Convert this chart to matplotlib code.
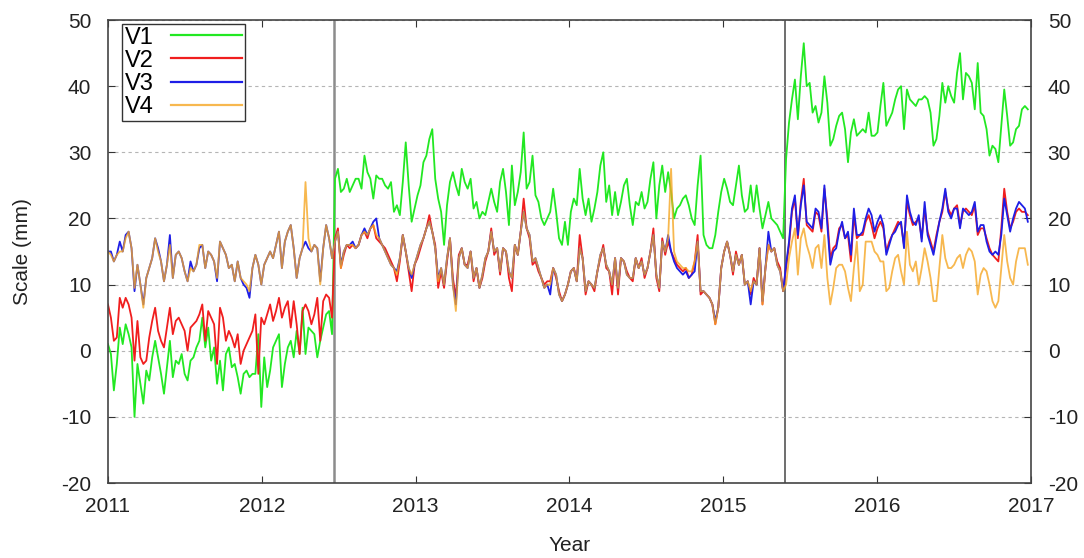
import numpy as np
import pandas as pd
import matplotlib
matplotlib.use("Agg")
import matplotlib.pyplot as plt

plt.rcParams['font.family'] = ['Liberation Sans', 'DejaVu Sans']
plt.rcParams['axes.unicode_minus'] = False

# weekly solutions, 2011-01-01 .. 2016-12-31
dates = pd.date_range("2011-01-01", periods=313, freq="7D")
years = 2011 + (dates - pd.Timestamp("2011-01-01")).days / 365.25

# equipment changes
breaks = [2012.47, 2015.40]

v1 = [
    1, -0.5, -6, -2, 3.5, 1, 4, 2.5, 0.5, -10,
    -2, -5, -8, -3, -4.5, -1, 1.5, -1, -3.5, -6.5,
    -2.5, 1.5, -4, -1.5, -2, -0.5, -3.5, -4.5, -1.5, -1,
    0.5, 1.5, 5, 0.5, 3.5, -1.5, 0.5, -5, -1.5, -6,
    -0.5, 0.5, -2.5, -2, -4, -6.5, -3.5, -3, -4, -3.5,
    -3.5, 2.5, -8.5, -1, -5.5, -3, 0.5, 1.5, 2.5, -5.5,
    -2, 0.5, 1.5, -1, 3, -0.5, 6.5, -0.5, 3.5, 3,
    2.5, -1, 1.5, 3.5, 5.5, 6, 2.5,
    26, 27.5, 24,
    24.5, 26, 24, 25, 26, 26, 24.5, 29.5, 27, 26,
    23, 26.5, 26, 26, 25, 24.5, 25.5, 21, 22, 20.5,
    25.5, 31.5, 25, 19.5, 21.5, 23.5, 25, 28.5, 29.5, 32,
    33.5, 26, 23, 21, 16, 22, 25.5, 27, 25, 23.5,
    27.5, 25.5, 24.5, 26, 21.5, 22.5, 20, 21, 20.5, 22.5,
    24.5, 22.5, 21, 25.5, 27.5, 24, 19, 28, 22, 24,
    27, 33, 24.5, 25.5, 29.5, 23.5, 22.5, 20, 19, 20,
    21, 24.5, 21, 17, 16, 19.5, 16, 21, 23, 22,
    27.5, 23, 20.5, 23, 19.5, 21.5, 24, 28, 30, 22.5,
    25, 20.5, 24, 20.5, 22.5, 25, 26, 22, 19, 22.5,
    22, 24, 21.5, 22.5, 26, 28.5, 20, 25, 28, 24,
    27, 24, 20, 21.5, 22, 23, 23.5, 22, 20, 19,
    25, 29.5, 17.5, 16, 15.5, 15.5, 17.5, 21, 24, 26,
    24.5, 22.5, 22, 25, 28, 23.5, 21, 21.5, 25, 21,
    25, 21.5, 18.5, 20.5, 22.5, 20, 19.5, 19, 18, 17,
    29, 34.5, 38, 41, 35, 41.5, 46.5, 40, 40.5, 36,
    37, 34.5, 36, 41.5, 37.5, 31, 32, 34, 35.5, 36,
    33.5, 28.5, 33, 35, 32.5, 33, 33.5, 33, 36, 32.5,
    32.5, 33, 37, 40.5, 34, 35, 36, 38, 39.5, 40,
    33.5, 39.5, 38, 37.5, 37, 38, 38, 38.5, 38, 36,
    31, 32, 35.5, 40.5, 37.5, 40, 38.5, 37.5, 42, 45,
    38, 42, 41.5, 40.5, 36.5, 43.5, 36, 35.5, 33.5, 29.5,
    31, 30.5, 28.5, 34, 39.5, 35.5, 31, 31.5, 33.5, 34,
    36.5, 37, 36.5,
]

v2 = [
    7, 5, 1.5, 2, 8, 6.5, 8, 7, 5, -1.5,
    4.5, -1, -2, -1.5, 2, 4.5, 6.5, 3, 1.5, 0.5,
    3.5, 6.5, 2.5, 4.5, 5, 4, 3, 0, 3.5, 4,
    4.5, 5.5, 7, 1.5, 6, 5, 4, -2, 6.5, 5,
    1.5, 3, 2, 0.5, 2.5, -2, 0, 1, 2, 3,
    5.5, -3.5, 5, 4, 5.5, 7, 4.5, 6, 8, 5,
    6.5, 7.5, 3.5, 7.5, 4, -0.5, 6, 7, 6, 4,
    5.5, 8, 1.5, 7.5, 8.5, 8, 5,
    17, 18.5, 12.5,
    14.5, 16, 15.5, 16, 15.5, 16, 17.5, 18, 17, 18.5,
    19, 17, 16.5, 16, 15.5, 14.5, 13.5, 12.5, 10.5, 13.5,
    17.5, 15, 12, 9, 13, 14, 15.5, 17, 18.5, 20.5,
    18, 16, 9.5, 12, 9.5, 13.5, 17, 11, 8, 14.5,
    15.5, 13, 13, 15, 10.5, 12.5, 9.5, 11, 13.5, 15,
    18.5, 14.5, 15.5, 11.5, 15.5, 15, 11, 9, 16, 14.5,
    18, 23, 18.5, 17, 13, 13.5, 12, 11, 10, 10.5,
    10.5, 12.5, 11, 9, 7.5, 8.5, 10, 12, 12.5, 10.5,
    17.5, 14, 8.5, 10.5, 10, 9, 12, 14, 16, 12.5,
    12, 8.5, 14, 8.5, 14, 13.5, 12, 11, 10.5, 14,
    12.5, 14, 11, 12.5, 15, 18.5, 11, 9, 17, 14.5,
    16.5, 15, 14, 13, 12.5, 12, 12.5, 11, 11.5, 13.5,
    17.5, 8.5, 9, 8.5, 8, 7, 4, 6.5, 12.5, 15,
    16.5, 14.5, 11.5, 15, 13, 14.5, 10, 10.5, 8.5, 11,
    10, 15.5, 7, 12.5, 16, 15, 15.5, 13.5, 12.5, 9,
    12.5, 16, 21, 23, 17, 22.5, 26, 19, 18.5, 18,
    21, 20.5, 18, 24.5, 20, 14, 15.5, 16, 18.5, 19,
    17, 17.5, 13.5, 20.5, 17, 17.5, 17.5, 19.5, 20.5, 19,
    17, 18.5, 19.5, 18.5, 15, 16.5, 17.5, 18.5, 19.5, 19,
    16, 22.5, 20.5, 19, 19.5, 20, 17, 21.5, 18, 16.5,
    15, 17.5, 19.5, 21, 24, 21.5, 20.5, 21.5, 22, 19,
    21, 21.5, 21, 20.5, 22, 17.5, 18.5, 18.5, 17, 15.5,
    14.5, 14, 13.5, 18.5, 24.5, 21, 18.5, 19.5, 21, 21.5,
    21, 21, 20.5,
]

v3 = [
    15, 15, 13.5, 14.5, 16.5, 15, 17.5, 18, 15.5, 9,
    13, 10, 7, 11, 12.5, 14, 17, 15.5, 13.5, 10.5,
    13, 17.5, 11, 14.5, 15, 14, 12, 10.5, 13.5, 12,
    13, 15.5, 16, 12.5, 15, 14.5, 13.5, 10.5, 16.5, 15.5,
    14.5, 12.5, 13, 10.5, 13.5, 11, 10, 9.5, 8, 12.5,
    14.5, 13, 10, 13, 14, 15, 14, 16, 18, 12.5,
    16.5, 18, 19, 15.5, 11, 14, 15.5, 16.5, 15.5, 15,
    16, 15.5, 10.5, 15.5, 19, 17, 14,
    16.5, 18, 13,
    15, 16, 16, 16.5, 15.5, 16, 17.5, 18.5, 17.5, 18.5,
    19.5, 20, 17, 16, 15, 14, 13, 12.5, 12, 14,
    17.5, 15, 12.5, 11, 13, 14.5, 16, 17, 18.5, 19.5,
    18, 15.5, 11, 12.5, 10, 14, 17, 10, 7, 14,
    15.5, 13, 12.5, 15, 11, 12.5, 9.5, 11.5, 14, 15,
    18, 15, 15.5, 12, 15.5, 15, 12, 11, 16, 14.5,
    18, 21, 18.5, 17.5, 13.5, 14, 12.5, 11, 9.5, 10,
    8.5, 12.5, 11.5, 8.5, 7.5, 8.5, 10, 12, 12.5, 10.5,
    15.5, 14, 9, 10.5, 10, 9.5, 12, 14.5, 15.5, 13,
    12, 10, 14, 9.5, 14, 13.5, 11.5, 11, 11, 14,
    12.5, 13.5, 11.5, 12.5, 15, 17.5, 11.5, 9.5, 16.5, 15,
    17.5, 15, 13.5, 12.5, 12, 11.5, 12, 11, 11.5, 12,
    16.5, 9, 9, 8.5, 8, 7, 4.5, 6.5, 12.5, 15,
    16.5, 14.5, 12, 14.5, 13, 14.5, 10, 10.5, 7, 10.5,
    10, 15.5, 7.5, 12.5, 18, 15, 15.5, 13, 12, 9,
    13, 16.5, 21.5, 23.5, 17.5, 22, 25, 19.5, 19, 18.5,
    21.5, 21, 18.5, 25, 19, 13, 15, 15.5, 18, 19.5,
    17, 18, 14.5, 21.5, 17.5, 17.5, 18, 20, 21.5, 20.5,
    18, 19.5, 20.5, 19, 14.5, 16, 17.5, 18, 19, 19.5,
    15.5, 23.5, 21, 19.5, 19, 20.5, 16.5, 22.5, 17.5, 16,
    14.5, 17, 19.5, 21.5, 24.5, 21, 20, 21.5, 21.5, 18.5,
    21.5, 21, 20.5, 21, 22.5, 18, 19, 19, 16.5, 15,
    14.5, 15, 14.5, 17.5, 23, 20.5, 18, 20, 21.5, 22.5,
    22, 21.5, 19.5,
]

v4 = [
    15, 14.5, 13.5, 14.5, 15, 15, 17, 18, 15.5, 9.5,
    13, 10, 6.5, 11, 12.5, 14, 17, 15, 13.5, 10.5,
    13, 16, 11, 14.5, 15, 14, 12, 10.5, 12.5, 12,
    13, 16, 16, 12.5, 15, 14.5, 13.5, 11, 16.5, 15.5,
    14.5, 12.5, 13, 10.5, 13.5, 11, 10.5, 10, 9, 12.5,
    14.5, 13, 10, 13, 14, 15, 14, 16, 18, 12.5,
    16.5, 18, 19, 15.5, 11, 14, 15.5, 25.5, 17, 15,
    16, 15.5, 10, 15.5, 19, 17, 14,
    16.5, 18, 12.5,
    15, 16, 16, 16, 15.5, 16, 17.5, 18, 17.5, 18.5,
    19, 17.5, 17, 16, 15, 14, 13, 12.5, 11.5, 14,
    17.5, 15, 12.5, 11.5, 13, 14.5, 16, 17, 18.5, 19.5,
    18, 15.5, 10.5, 12.5, 10, 14, 17, 10, 6, 14,
    15.5, 13, 12.5, 15, 11, 12.5, 9.5, 11.5, 14, 15,
    18, 15, 15.5, 12, 15.5, 15, 12, 11, 16, 14.5,
    18, 21, 18.5, 17.5, 13.5, 14, 12.5, 11, 9.5, 10,
    10, 12.5, 11.5, 8.5, 7.5, 8.5, 10, 12, 12.5, 10.5,
    15.5, 14, 9, 10.5, 10, 9.5, 12, 14.5, 15.5, 13,
    12, 10, 14, 9.5, 14, 13.5, 11.5, 11, 11, 14,
    12.5, 13.5, 11.5, 12.5, 15, 17.5, 11.5, 9.5, 16.5, 15,
    17, 27.5, 15, 13.5, 13, 12.5, 12.5, 12, 12, 13.5,
    16.5, 9, 9, 8.5, 8, 7, 4, 6.5, 12.5, 15,
    16.5, 14.5, 12, 14.5, 13, 14.5, 10, 10.5, 9, 10.5,
    10, 15.5, 7, 12.5, 16, 15, 15.5, 13, 12, 9,
    10, 14, 16.5, 18.5, 11.5, 17, 18.5, 16, 14.5, 12.5,
    15.5, 16, 12.5, 17.5, 11, 7, 9.5, 12.5, 13, 13,
    12, 9.5, 7.5, 12.5, 16.5, 9, 10, 16.5, 16.5, 16.5,
    15, 14.5, 13.5, 13.5, 9, 9.5, 12, 14, 14.5, 12,
    10, 18, 13, 12, 13.5, 10, 12.5, 15.5, 13.5, 11,
    7.5, 7.5, 12.5, 17.5, 14, 12.5, 12.5, 13, 14, 14.5,
    12.5, 14.5, 15.5, 15, 13.5, 8.5, 11.5, 12.5, 12, 10,
    7.5, 6.5, 7.5, 12.5, 17.5, 13.5, 11, 10, 13.5, 15.5,
    15.5, 15.5, 13,
]

series = [("V1", v1, "#22e822"), ("V2", v2, "#f01e1e"),
          ("V3", v3, "#1e1ee6"), ("V4", v4, "#f5a623")]

fig = plt.figure(figsize=(10.84, 5.58), dpi=100)
ax = fig.add_axes([0.0996, 0.1344, 0.8515, 0.8297])

for name, vals, col in series:
    alpha = 0.8 if name == "V4" else 1.0
    ax.plot(years[:len(vals)], vals, color=col, lw=1.3, alpha=alpha, label=name)

ax.axvline(breaks[0], color="#8c8c8c", lw=1.8, zorder=0)
ax.axvline(breaks[1], color="#555555", lw=1.2, zorder=0)

ax.set_xlim(2011, 2017)
ax.set_ylim(-20, 50)
ax.set_xticks(range(2011, 2018))
ax.set_yticks(range(-20, 51, 10))
ax.yaxis.grid(True, color="#b5b5b5", linestyle=(0, (3, 3)), lw=0.8)
ax.tick_params(direction="in", length=5, width=0.8, labelsize=15,
               top=True, right=True, labelright=True, colors="#333333",
               labelcolor="#222222")
ax.tick_params(axis="x", pad=10)
ax.tick_params(axis="y", pad=12)
for sp in ax.spines.values():
    sp.set_color("#444444")
    sp.set_linewidth(1.2)

ax.set_xlabel("Year", fontsize=15, color="#222222")
ax.set_ylabel("Scale (mm)", fontsize=15, color="#222222")
ax.xaxis.set_label_coords(0.5, -0.134)
ax.xaxis.label.set_va("center")
ax.yaxis.set_label_coords(-0.093, 0.5)
ax.yaxis.label.set_va("center")

leg = ax.legend(loc="upper left", bbox_to_anchor=(0.015, 0.992),
                borderaxespad=0, markerfirst=False, fancybox=False,
                edgecolor="#333333", fontsize=17, handlelength=3.0,
                handletextpad=0.75, labelspacing=0.05, borderpad=0.12,
                framealpha=1)
leg.get_frame().set_linewidth(1.0)
for h in leg.get_lines():
    h.set_linewidth(1.6)

fig.savefig("out.png", dpi=100)
